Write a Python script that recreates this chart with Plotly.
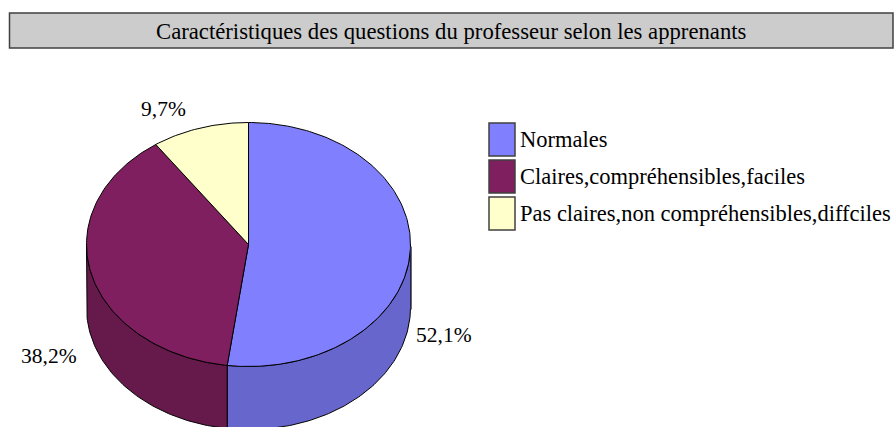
"""
plot.py

Caractéristiques des questions du professeur: tilted 3D-style pie with a
side wall, drawn as filled scatter polygons (Plotly's Pie has no tilt).
"""

from __future__ import annotations

import math

import plotly.graph_objects as go

TITLE = "Caractéristiques des questions du professeur selon les apprenants"

CATEGORIES = [
    "Normales",
    "Claires,compréhensibles,faciles",
    "Pas claires,non compréhensibles,diffciles",
]
SHARES = [52.1, 38.2, 9.7]
SHARE_LABELS = ["52,1%", "38,2%", "9,7%"]

TOP_COLORS = ["#8080FF", "#7F1F5F", "#FFFFCC"]
WALL_COLORS = ["#6666CC", "#661A4C", "#CCCCA3"]

# Axes run in page pixels, so these are the pie's placement on the page
WIDTH, HEIGHT = 895, 427
CX, CY = 248.5, 244.5
RX, RY = 162, 122
DEPTH = 63
FONT = "Liberation Serif"
LABEL_SIZE = 21.5
TITLE_SIZE = 22.7
LEGEND_SIZE = 22.5


def _ellipse(start_deg: float, end_deg: float, drop: float = 0.0) -> tuple[list[float], list[float]]:
    """Points along the rim, clockwise from 12 o'clock, `drop` px below the top face."""
    steps = max(2, int(abs(end_deg - start_deg)))
    xs, ys = [], []
    for i in range(steps + 1):
        a = math.radians(start_deg + (end_deg - start_deg) * i / steps)
        xs.append(CX + RX * math.sin(a))
        ys.append(CY - RY * math.cos(a) + drop)
    return xs, ys


def _polygon(xs: list[float], ys: list[float], color: str) -> go.Scatter:
    return go.Scatter(
        x=xs,
        y=ys,
        mode="lines",
        fill="toself",
        fillcolor=color,
        line=dict(color="#000000", width=1),
        hoverinfo="skip",
        showlegend=False,
    )


fig = go.Figure()

# Slice limits in degrees
bounds = [0.0]
for share in SHARES:
    bounds.append(bounds[-1] + share * 3.6)

# Side wall first, only the front half (90-270 deg) is visible
for i in range(len(SHARES)):
    start, end = max(bounds[i], 90.0), min(bounds[i + 1], 270.0)
    if start >= end:
        continue
    top_x, top_y = _ellipse(start, end)
    low_x, low_y = _ellipse(start, end, DEPTH)
    fig.add_trace(_polygon(top_x + low_x[::-1] + top_x[:1], top_y + low_y[::-1] + top_y[:1], WALL_COLORS[i]))

# Top face
for i in range(len(SHARES)):
    xs, ys = _ellipse(bounds[i], bounds[i + 1])
    fig.add_trace(_polygon([CX] + xs + [CX], [CY] + ys + [CY], TOP_COLORS[i]))

shapes = [
    # Title band
    dict(type="rect", x0=9.5, x1=893, y0=13, y1=48, fillcolor="#CCCCCC", line=dict(color="#404040", width=1.5)),
    # Heavier edge on the right of the wall
    dict(type="line", x0=CX + RX + 0.5, x1=CX + RX + 0.5, y0=CY + 2, y1=CY + DEPTH + 2, line=dict(color="#333350", width=1.5)),
]
annotations = [
    dict(x=451, y=31, text=TITLE, xanchor="center", yanchor="middle", size=TITLE_SIZE),
    dict(x=443.5, y=335, text=SHARE_LABELS[0], xanchor="center", yanchor="middle", size=LABEL_SIZE),
    dict(x=49, y=356, text=SHARE_LABELS[1], xanchor="center", yanchor="middle", size=LABEL_SIZE),
    dict(x=163.5, y=109, text=SHARE_LABELS[2], xanchor="center", yanchor="middle", size=LABEL_SIZE),
]

# Legend is hand-placed: swatches are taller than Plotly's own legend allows
for i, (name, color) in enumerate(zip(CATEGORIES, TOP_COLORS)):
    top = 123 + i * 37
    shapes.append(dict(
        type="rect", x0=489, x1=515, y0=top, y1=top + 33,
        fillcolor=color, line=dict(color="#404040", width=1.5),
    ))
    annotations.append(dict(x=518, y=top + 16, text=name, xanchor="left", yanchor="middle", size=LEGEND_SIZE))

for ann in annotations:
    size = ann.pop("size")
    ann.update(showarrow=False, xref="x", yref="y", font=dict(family=FONT, size=size, color="#000000"))

fig.update_layout(
    width=WIDTH,
    height=HEIGHT,
    margin=dict(l=0, r=0, t=0, b=0),
    paper_bgcolor="#FFFFFF",
    plot_bgcolor="#FFFFFF",
    xaxis=dict(range=[0, WIDTH], visible=False, fixedrange=True),
    yaxis=dict(range=[HEIGHT, 0], visible=False, fixedrange=True),
    shapes=shapes,
    annotations=annotations,
    showlegend=False,
)

fig.write_html(
    "out.html",
    config=dict(displayModeBar=False),
    post_script="document.body.style.margin = '0';",
)
